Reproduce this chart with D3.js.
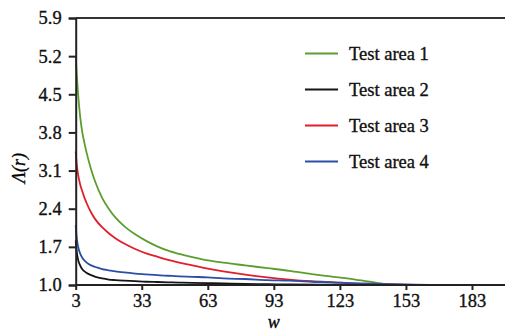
<!DOCTYPE html>
<html><head><meta charset="utf-8">
<script src="https://cdn.jsdelivr.net/npm/d3@7"></script>
<style>body{margin:0;background:#fff}svg{display:block}
svg text{font-family:"Liberation Serif","Times New Roman","DejaVu Serif",serif !important;stroke:#111;stroke-width:0.35px;}</style>
</head><body><svg id="c" width="505" height="331"></svg>
<script>
const yTicks = [1.0, 1.7, 2.4, 3.1, 3.8, 4.5, 5.2, 5.9];
const xTicks = [3, 33, 63, 93, 123, 153, 183];
const seriesNames = ["Test area 1", "Test area 2", "Test area 3", "Test area 4"];
const seriesColors = ["#5c9e2e", "#151515", "#e01f2d", "#2b4ea6"];

const wArea1 = [3,3.5,4,5,6,7,8,10,12,15,18,21,25,30,35,40,45,50,56,63,70,80,90,100,110,120,130,140,145,150];
const vArea1 = [5.2,4.85,4.55,4.1,3.8,3.6,3.42,3.12,2.88,2.6,2.4,2.24,2.08,1.93,1.81,1.71,1.63,1.57,1.51,1.45,1.41,1.36,1.31,1.26,1.2,1.15,1.1,1.04,1.01,1.0];
const wArea2 = [3,3.5,4,5,6,7,8,10,12,15,18,21,25,30,35,40,45,50,56,63,70,80,90,100,120,140,171];
const vArea2 = [1.82,1.6,1.48,1.36,1.29,1.25,1.22,1.18,1.15,1.12,1.1,1.09,1.08,1.07,1.06,1.055,1.05,1.045,1.04,1.035,1.03,1.02,1.015,1.01,1.005,1.0,1.0];
const wArea3 = [3,3.5,4,5,6,7,8,10,12,15,18,21,25,30,35,40,45,50,56,63,70,80,90,100,110,120,130,140,150,165,198];
const vArea3 = [3.45,3.2,3.05,2.85,2.72,2.6,2.5,2.33,2.2,2.06,1.95,1.86,1.76,1.66,1.58,1.52,1.46,1.41,1.36,1.3,1.25,1.19,1.14,1.1,1.07,1.05,1.03,1.02,1.01,1.0,1.0];
const wArea4 = [3,3.5,4,5,6,7,8,10,12,15,18,21,25,30,35,40,45,50,56,63,70,80,90,100,110,120,130,140,150,164];
const vArea4 = [2.1,1.85,1.72,1.58,1.5,1.45,1.41,1.36,1.33,1.29,1.27,1.25,1.23,1.21,1.195,1.18,1.17,1.16,1.15,1.14,1.12,1.11,1.09,1.08,1.06,1.05,1.03,1.02,1.01,1.0];

const series = [
  {name: seriesNames[0], color: seriesColors[0], w: wArea1, v: vArea1},
  {name: seriesNames[1], color: seriesColors[1], w: wArea2, v: vArea2},
  {name: seriesNames[2], color: seriesColors[2], w: wArea3, v: vArea3},
  {name: seriesNames[3], color: seriesColors[3], w: wArea4, v: vArea4}
];

const svg = d3.select("#c");
const x = d3.scaleLinear().domain([3, 198]).range([75.7, 505]);
const y = d3.scaleLinear().domain([1.0, 5.9]).range([285, 18]);

// top frame
svg.append("line").attr("x1", x(3)).attr("x2", 505).attr("y1", y(5.9)).attr("y2", y(5.9))
  .attr("stroke", "#333").attr("stroke-width", 2);

// lines (draw order: green, red, black, blue)
const line = d3.line().x(d => x(d[0])).y(d => y(d[1])).curve(d3.curveMonotoneX);
[0, 2, 1, 3].forEach(i => {
  const s = series[i];
  svg.append("path").datum(s.w.map((w, j) => [w, s.v[j]]))
    .attr("d", line).attr("fill", "none").attr("stroke", s.color).attr("stroke-width", 1.8);
});

// axes
const yAxis = d3.axisLeft(y).tickValues(yTicks).tickFormat(d3.format(".1f")).tickSize(7).tickPadding(7);
const gy = svg.append("g").attr("transform", `translate(${x(3)},0)`).call(yAxis);
const xAxis = d3.axisBottom(x).tickValues(xTicks).tickFormat(d3.format("d")).tickSize(5).tickPadding(4);
const gx = svg.append("g").attr("transform", `translate(0,${y(1.0)})`).call(xAxis);
[gx, gy].forEach(g => {
  g.attr("font-family", null);
  g.select(".domain").attr("stroke", "#222").attr("stroke-width", 2);
  g.selectAll(".tick line").attr("stroke", "#222").attr("stroke-width", 2);
  g.selectAll("text").attr("font-size", 18.5).attr("fill", "#111");
});
gx.select(".domain").attr("d", `M${x(3)},0H505`);

// axis titles
svg.append("text").attr("x", x(93)).attr("y", 328).attr("text-anchor", "middle")
  .attr("font-style", "italic").attr("font-size", 18).text("w");
svg.append("text").attr("transform", "translate(25,168) rotate(-90)").attr("text-anchor", "middle")
  .attr("font-style", "italic").attr("font-size", 18).text("Λ(r)");

// legend
const leg = svg.append("g");
series.forEach((s, i) => {
  const ly = 53.5 + i * 36;
  leg.append("line").attr("x1", 305).attr("x2", 338).attr("y1", ly).attr("y2", ly)
    .attr("stroke", s.color).attr("stroke-width", 1.8);
  leg.append("text").attr("x", 349).attr("y", ly + 6)
    .attr("font-size", 18.5).attr("fill", "#111").text(s.name);
});
</script></body></html>
